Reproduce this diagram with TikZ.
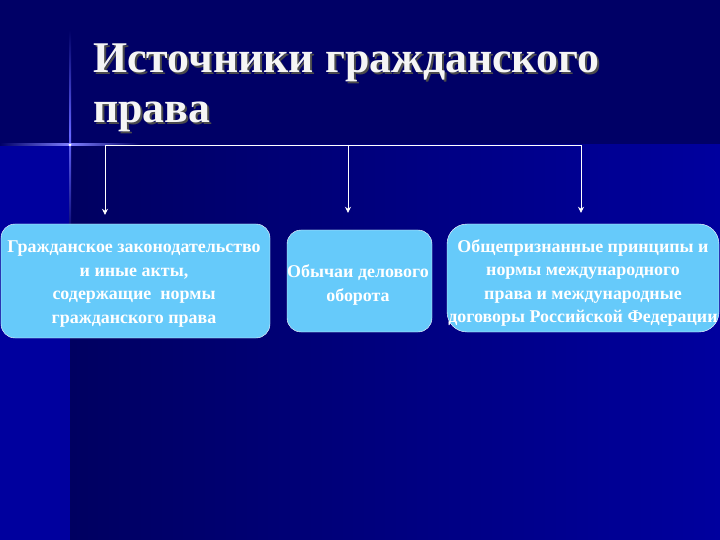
\documentclass[tikz,border=0pt]{standalone}
\usepackage{fontspec}
\setmainfont{Liberation Serif}
\usetikzlibrary{arrows.meta, positioning}
\definecolor{navy}{RGB}{0,0,102}
\definecolor{deepblue}{RGB}{0,0,158}
\definecolor{boxblue}{RGB}{102,202,250}

\begin{document}
\begin{tikzpicture}[x=1bp, y=-1bp,
  src/.style = {draw=white, fill=boxblue, rounded corners=14bp},
  srctext/.style = {inner sep=1bp, text=white, font=\bfseries\fontsize{18}{23.5}\selectfont, align=center},
  title/.style = {anchor=base west, inner sep=0pt, font=\bfseries\fontsize{44}{52}\selectfont},
  link/.style = {draw=white, line width=0.8bp, -{Stealth[length=6bp, width=6bp]}}]
\useasboundingbox (0,0) rectangle (720,540);
% background
\fill[navy] (0,0) rectangle (720,540);
\fill[deepblue] (0,145) rectangle (70,540);
\shade[left color=navy!95!black, right color=deepblue] (70,145) rectangle (720,540);
\shade[top color=navy, bottom color=navy, middle color=blue!60!white] (69,30) rectangle (71,240);
\shade[left color=navy, right color=navy, middle color=blue!50!white] (0,144) rectangle (140,146);
\fill[white] (70,145) circle (1.5bp);
% title
\node[title, text=black!70] at (95,75) {Источники гражданского};
\node[title, text=black!70] at (95,125) {права};
\node[title, text=white!92!gray] (t1) at (93,73) {Источники гражданского};
\node[title, text=white!92!gray] (t2) at (93,123) {права};
% sources
\node[src, minimum width=269bp, minimum height=114bp] (law) at (135.5,281) {};
\node[src, minimum width=145bp, minimum height=102bp] (custom) at (359.5,281) {};
\node[src, minimum width=272bp, minimum height=108bp, rounded corners=20bp] (intl) at (583,278) {};
\node[srctext] (lawtext) at (134,284) {Гражданское законодательство\\и иные акты,\\содержащие\ \ нормы\\гражданского права};
\node[srctext] (customtext) at (358,285) {Обычаи делового\\оборота};
\node[srctext] (intltext) at (583,283) {Общепризнанные принципы и\\нормы международного\\права и международные\\договоры Российской Федерации};
\coordinate (j1) at (105,145);
\coordinate (j2) at (348,145);
\coordinate (j3) at (581,145);
\draw[white, line width=0.8bp] (j1) -- (j3);
\draw[link, shorten >=9bp] (j1) -- (j1 |- law.north);
\draw[link, shorten >=17bp] (j2) -- (j2 |- custom.north);
\draw[link, shorten >=11bp] (j3) -- (j3 |- intl.north);
\end{tikzpicture}
\end{document}
